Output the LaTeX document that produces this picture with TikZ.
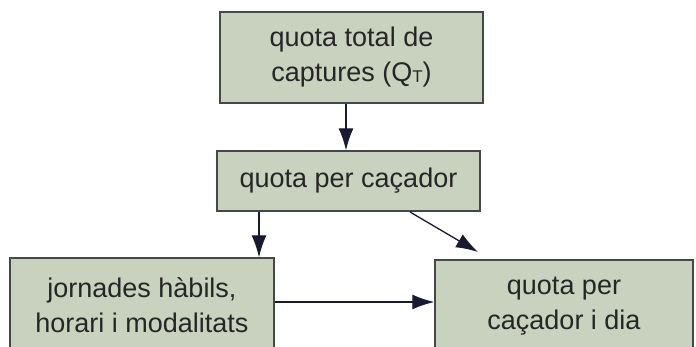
\documentclass[tikz,border=0pt]{standalone}
\usepackage{fontspec}
\setmainfont{Liberation Sans}
\usetikzlibrary{arrows.meta}
\definecolor{boxfill}{RGB}{201,210,191}
\definecolor{boxline}{RGB}{70,72,70}
\definecolor{arrowcol}{RGB}{25,25,50}
\tikzset{
  box/.style={draw=boxline, line width=1.4pt, fill=boxfill, align=center, inner sep=0pt,
    font=\fontsize{27}{35}\selectfont, text=black!85},
  conn/.style={draw=arrowcol, line width=1.3pt, -{Latex[length=22pt,width=15pt]}}
}
\begin{document}
\begin{tikzpicture}[x=1pt,y=-1pt]
\useasboundingbox (0,0) rectangle (696,347);
\clip (0,0) rectangle (696,347);
\node[box, minimum width=263pt, minimum height=91pt] (qt) at (351.5,57.5)
  {quota total de\\captures (Q\raisebox{-1pt}{\fontsize{17}{17}\selectfont T})};
\node[box, minimum width=263pt, minimum height=60pt] (qc) at (348.5,181)
  {quota per caçador};
\node[box, minimum width=264pt, minimum height=94pt] (jh) at (142,305)
  {jornades hàbils,\\horari i modalitats};
\node[box, minimum width=258pt, minimum height=92pt] (qd) at (564,306)
  {quota per\\caçador i dia};
\draw[conn] (qt.south -| 346,0) -- (qc.north -| 346,0);
\draw[conn] (qc.south -| 259,0) -- (jh.north -| 259,0);
\coordinate (a2s) at (410,212);
\coordinate (a2e) at (478,252);
\draw[conn] (a2s) -- (a2e);
\draw[conn] (jh.east |- 0,302) -- (qd.west |- 0,302);
\end{tikzpicture}
\end{document}
